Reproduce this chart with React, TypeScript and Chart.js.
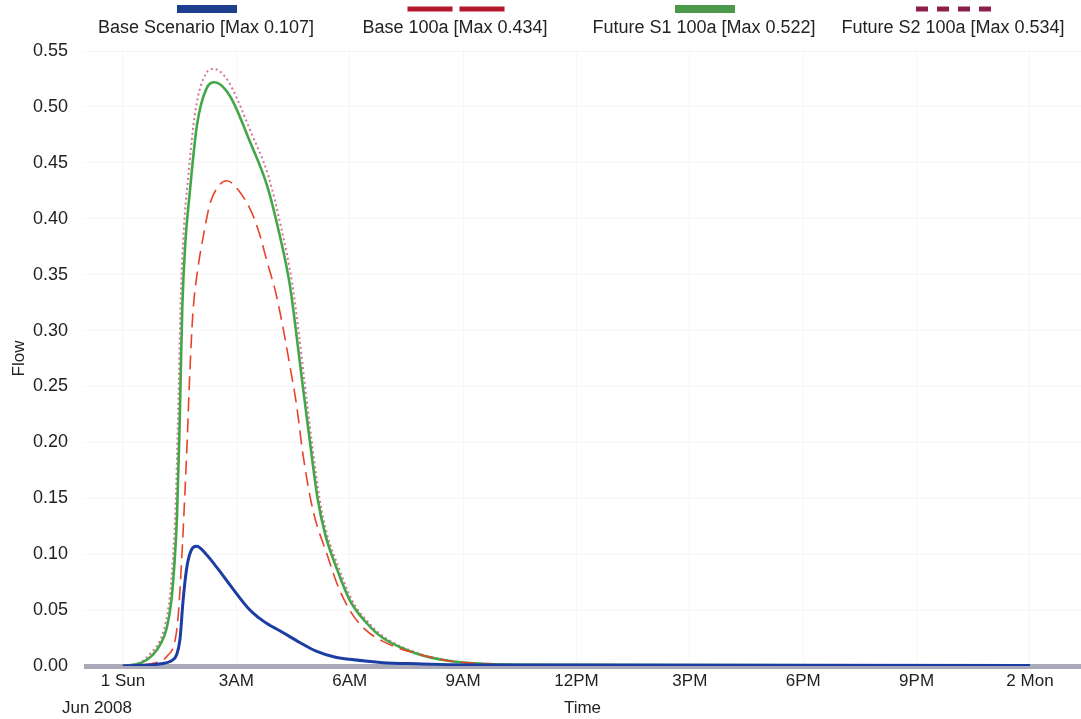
import React, { useEffect, useRef } from 'react';
import { Chart, registerables } from 'chart.js';
Chart.register(...registerables);

// ---- data ----
const tickHours = [0, 3, 6, 9, 12, 15, 18, 21, 24];
const tickLabels = ['1 Sun', '3AM', '6AM', '9AM', '12PM', '3PM', '6PM', '9PM', '2 Mon'];
const dateLabel = 'Jun 2008';
const xTitle = 'Time';
const yTitle = 'Flow';

const seriesNames = [
  'Base Scenario [Max 0.107]',
  'Base 100a [Max 0.434]',
  'Future S1 100a [Max 0.522]',
  'Future S2 100a [Max 0.534]',
];

const baseHours = [0, 1.0, 1.3, 1.42, 1.51, 1.59, 1.69, 1.8, 1.95, 2.2, 2.49, 2.91, 3.36, 3.6, 3.81, 4.23, 4.68, 5.13, 5.6, 6.0, 6.88, 7.78, 9.2, 12, 24];
const baseFlow = [0, 0.002, 0.005, 0.01, 0.024, 0.058, 0.088, 0.103, 0.107, 0.1, 0.088, 0.069, 0.05, 0.043, 0.038, 0.03, 0.021, 0.013, 0.008, 0.006, 0.003, 0.002, 0.001, 0.0008, 0.0005];

const b100Hours = [0, 0.98, 1.2, 1.36, 1.45, 1.53, 1.61, 1.69, 1.77, 1.85, 1.96, 2.17, 2.3, 2.55, 2.75, 2.91, 3.36, 3.6, 3.81, 4.05, 4.25, 4.42, 4.6, 4.76, 5.03, 5.4, 5.66, 6.0, 6.4, 6.88, 7.78, 8.65, 9.5, 10.5, 24];
const b100Flow = [0, 0.004, 0.01, 0.02, 0.04, 0.08, 0.133, 0.193, 0.262, 0.315, 0.35, 0.392, 0.413, 0.43, 0.434, 0.431, 0.409, 0.388, 0.362, 0.333, 0.3, 0.268, 0.232, 0.19, 0.139, 0.1, 0.074, 0.05, 0.033, 0.022, 0.011, 0.0045, 0.002, 0.001, 0.0005];

const s1Hours = [0, 0.5, 0.79, 1.0, 1.16, 1.28, 1.36, 1.43, 1.5, 1.57, 1.65, 1.77, 1.96, 2.22, 2.43, 2.7, 2.91, 3.36, 3.81, 4.15, 4.42, 4.6, 4.76, 4.95, 5.15, 5.35, 5.66, 6.0, 6.46, 6.88, 7.78, 8.65, 9.52, 10.5, 24];
const s1Flow = [0, 0.003, 0.01, 0.02, 0.034, 0.058, 0.09, 0.133, 0.215, 0.32, 0.378, 0.424, 0.484, 0.517, 0.522, 0.516, 0.505, 0.469, 0.43, 0.385, 0.34, 0.294, 0.25, 0.2, 0.15, 0.118, 0.087, 0.059, 0.038, 0.025, 0.011, 0.0045, 0.002, 0.001, 0.0005];

const s2Hours = [0, 0.5, 0.75, 0.97, 1.12, 1.24, 1.32, 1.39, 1.46, 1.53, 1.61, 1.72, 1.92, 2.2, 2.4, 2.68, 2.9, 3.38, 3.85, 4.2, 4.48, 4.66, 4.82, 5.0, 5.2, 5.4, 5.72, 6.06, 6.52, 6.95, 7.85, 8.7, 9.6, 10.5, 24];
const s2Flow = [0, 0.004, 0.012, 0.022, 0.037, 0.062, 0.095, 0.14, 0.225, 0.33, 0.39, 0.435, 0.497, 0.53, 0.534, 0.528, 0.516, 0.478, 0.438, 0.39, 0.342, 0.296, 0.25, 0.2, 0.15, 0.118, 0.087, 0.059, 0.038, 0.025, 0.011, 0.0045, 0.002, 0.001, 0.0005];

const FONT = "'Liberation Sans', Arial, sans-serif";

const toPts = (xs: number[], ys: number[]) => xs.map((x, i) => ({ x, y: ys[i] }));

const legendStyles = [
  { color: '#1e3f8f', width: 60, thick: 8, dash: [] as number[] },
  { color: '#b3162a', width: 97, thick: 5, dash: [45, 7] },
  { color: '#4d9a4d', width: 60, thick: 8, dash: [] as number[] },
  { color: '#8b1e4a', width: 76, thick: 5, dash: [12, 9] },
];

const legendPlugin = {
  id: 'topLegend',
  afterDraw(chart: any) {
    const ctx = chart.ctx;
    ctx.save();
    seriesNames.forEach((name, i) => {
      const cx = 206 + i * 249;
      const st = legendStyles[i];
      ctx.strokeStyle = st.color;
      ctx.lineWidth = st.thick;
      ctx.lineCap = 'butt';
      ctx.setLineDash(st.dash);
      ctx.beginPath();
      ctx.moveTo(cx + 1 - st.width / 2, 9);
      ctx.lineTo(cx + 1 + st.width / 2, 9);
      ctx.stroke();
      ctx.setLineDash([]);
      ctx.fillStyle = '#222';
      ctx.font = `18px ${FONT}`;
      ctx.textAlign = 'center';
      ctx.textBaseline = 'middle';
      ctx.fillText(name, cx, 28);
    });
    // date label under first tick
    const xs = chart.scales.x;
    ctx.font = `17px ${FONT}`;
    ctx.textAlign = 'center';
    ctx.fillStyle = '#222';
    ctx.fillText(dateLabel, xs.getPixelForValue(tickHours[0]) - 26, 708);
    ctx.restore();
  },
};

export default function App() {
  const ref = useRef<HTMLCanvasElement>(null);
  useEffect(() => {
    document.body.style.margin = '0';
    const chart = new Chart(ref.current!, {
      type: 'line',
      data: {
        datasets: [
          {
            label: seriesNames[0],
            data: toPts(baseHours, baseFlow),
            borderColor: '#1c3ea2',
            borderWidth: 3,
          },
          {
            label: seriesNames[1],
            data: toPts(b100Hours, b100Flow),
            borderColor: '#e8432a',
            borderWidth: 1.6,
            borderDash: [14, 7],
          },
          {
            label: seriesNames[2],
            data: toPts(s1Hours, s1Flow),
            borderColor: '#43a748',
            borderWidth: 2.6,
          },
          {
            label: seriesNames[3],
            data: toPts(s2Hours, s2Flow),
            borderColor: '#d6709e',
            borderWidth: 2,
            borderDash: [2, 3],
          },
        ],
      },
      options: {
        animation: false,
        responsive: true,
        maintainAspectRatio: false,
        parsing: false as any,
        elements: {
          point: { radius: 0 },
          line: { cubicInterpolationMode: 'monotone', fill: false },
        },
        layout: { padding: { top: 51, left: 0, right: 0, bottom: 0 } },
        plugins: { legend: { display: false }, tooltip: { enabled: false } },
        scales: {
          x: {
            type: 'linear',
            min: -1.03,
            max: 25.35,
            afterBuildTicks: (scale: any) => {
              scale.ticks = tickHours.map((v) => ({ value: v }));
            },
            afterFit: (scale: any) => {
              scale.height = 53;
            },
            ticks: {
              autoSkip: false,
              maxRotation: 0,
              padding: 5,
              color: '#222',
              font: { family: FONT, size: 17 },
              callback: (v: any) => tickLabels[tickHours.indexOf(Number(v))] ?? '',
            },
            grid: { color: 'rgba(0,0,0,0.035)', drawTicks: false },
            border: { display: false },
            title: {
              display: true,
              text: xTitle,
              color: '#222',
              font: { family: FONT, size: 17 },
              padding: { top: 0, bottom: 0 },
            },
          },
          y: {
            type: 'linear',
            min: 0,
            max: 0.55,
            afterFit: (scale: any) => {
              scale.width = 84;
            },
            ticks: {
              stepSize: 0.05,
              padding: 16,
              color: '#222',
              font: { family: FONT, size: 18 },
              callback: (v: any) => Number(v).toFixed(2),
            },
            grid: {
              drawTicks: false,
              color: (c: any) => (c.tick && Math.abs(c.tick.value) < 1e-9 ? '#a9a9b9' : 'rgba(0,0,0,0.035)'),
              lineWidth: (c: any) => (c.tick && Math.abs(c.tick.value) < 1e-9 ? 5 : 1),
            },
            border: { display: false },
            title: {
              display: true,
              text: yTitle,
              color: '#222',
              font: { family: FONT, size: 17 },
              padding: { top: 9, bottom: 0 },
            },
          },
        },
      },
      plugins: [legendPlugin],
    } as any);
    return () => chart.destroy();
  }, []);
  return (
    <div style={{ width: 1081, height: 719, position: 'relative' }}>
      <canvas ref={ref} />
    </div>
  );
}
